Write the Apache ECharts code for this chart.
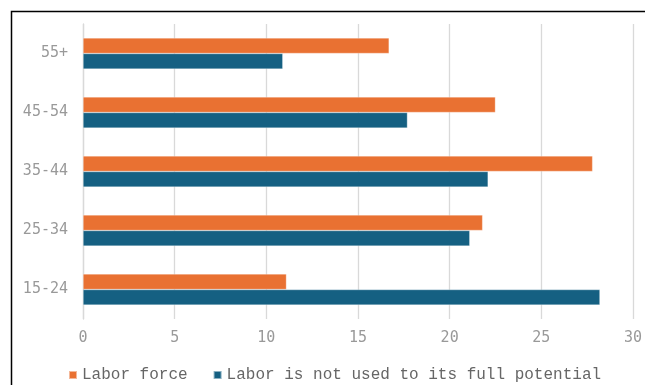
<!DOCTYPE html>
<html>
<head>
<meta charset="utf-8">
<script src="https://cdn.jsdelivr.net/npm/echarts@6/dist/echarts.min.js"></script>
<style>
  html, body { margin: 0; padding: 0; background: #fff; }
  #chart { width: 645px; height: 385px; }
</style>
</head>
<body>
<div id="chart"></div>
<script>
"use strict";
// age groups, bottom to top
var categories = ['15-24', '25-34', '35-44', '45-54', '55+'];
var laborForce = [11.1, 21.8, 27.8, 22.5, 16.7];
var notFullPotential = [28.2, 21.1, 22.1, 17.7, 10.9];
var seriesNames = ['Labor force', 'Labor is not used to its full potential'];
var xTicks = [0, 5, 10, 15, 20, 25, 30];

var ORANGE = '#E97132', BLUE = '#156082';

var chart = echarts.init(document.getElementById('chart'), null, { renderer: 'canvas' });

chart.setOption({
  animation: false,
  backgroundColor: '#fff',
  graphic: [{
    // frame: only top and left edges show in the picture
    type: 'rect',
    shape: { x: 11.5, y: 11.5, width: 700, height: 400 },
    style: { fill: 'none', stroke: '#000', lineWidth: 1.5 },
    silent: true
  }],
  grid: { left: 83, right: 12, top: 24, bottom: 66, containLabel: false },
  legend: {
    left: 63,
    top: 362,
    itemWidth: 8,
    itemHeight: 8,
    itemGap: 25,
    icon: 'rect',
    textStyle: { fontFamily: 'Liberation Mono', fontSize: 16, color: '#666' },
    data: seriesNames
  },
  xAxis: {
    type: 'value',
    min: xTicks[0],
    max: xTicks[xTicks.length - 1],
    interval: 5,
    axisLine: { show: false },
    axisTick: { show: false },
    splitLine: { lineStyle: { color: '#d9d9d9', width: 1.3 } },
    axisLabel: {
      margin: 12,
      fontFamily: 'DejaVu Sans Mono',
      fontSize: 15,
      color: '#999'
    }
  },
  yAxis: {
    type: 'category',
    data: categories,
    axisLine: { show: true, lineStyle: { color: '#d9d9d9', width: 1.3 } },
    axisTick: { show: false },
    splitLine: { show: false },
    axisLabel: {
      margin: 15,
      fontFamily: 'DejaVu Sans Mono',
      fontSize: 15,
      color: '#999'
    }
  },
  series: [{
    name: seriesNames[0],
    type: 'bar',
    data: laborForce,
    barGap: '0%',
    barCategoryGap: '47%',
    itemStyle: { color: ORANGE, borderColor: 'rgba(255,255,255,0.5)', borderWidth: 0.6 }
  }, {
    name: seriesNames[1],
    type: 'bar',
    data: notFullPotential,
    barGap: '0%',
    barCategoryGap: '47%',
    itemStyle: { color: BLUE, borderColor: 'rgba(255,255,255,0.5)', borderWidth: 0.6 }
  }]
});

window.addEventListener('resize', function () {
  chart.resize();
});
</script>
</body>
</html>
